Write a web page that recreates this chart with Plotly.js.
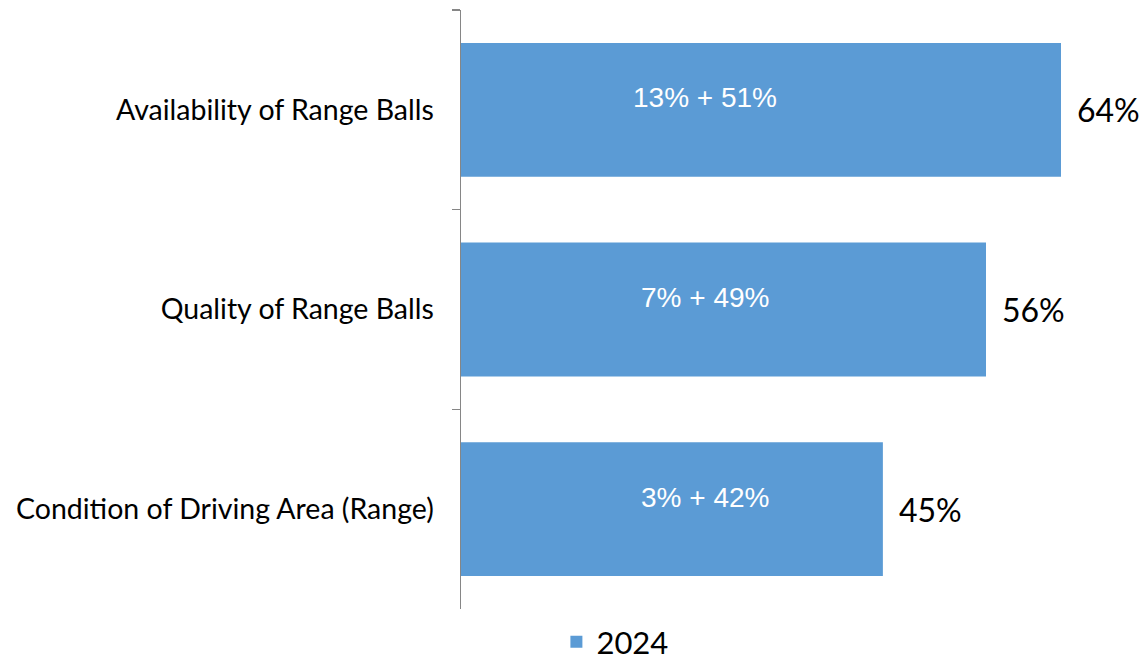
<!DOCTYPE html>
<html><head><meta charset="utf-8">
<script src="https://cdn.plot.ly/plotly-3.0.1.min.js"></script>
<style>html,body{margin:0;padding:0;background:#fff}#chart{width:1143px;height:669px}</style>
</head><body><div id="chart"></div>
<script>
const categories = ["Availability of Range Balls", "Quality of Range Balls", "Condition of Driving Area (Range)"];
const totals = [64, 56, 45];
const partA = [13, 7, 3];
const partB = [51, 49, 42];
const seriesName = "2024";
const insideLabelX = 26;

const barColor = "#5B9BD5";
const font = "Lato, 'Liberation Sans', sans-serif";
const arial = "'Liberation Sans', Arial, sans-serif";

const annotations = [];
categories.forEach((c, i) => {
  annotations.push({x: insideLabelX, y: c, xref: "x", yref: "y", text: partA[i] + "% + " + partB[i] + "%",
    showarrow: false, font: {family: arial, size: 28, color: "#ffffff"}, yshift: 12, xanchor: "center"});
  annotations.push({x: totals[i], y: c, xref: "x", yref: "y", text: totals[i] + "%",
    showarrow: false, font: {family: font, size: 32, color: "#000000"}, xanchor: "left", xshift: 14});
});

Plotly.newPlot("chart", [{
  type: "bar", orientation: "h", y: categories, x: totals, name: seriesName,
  marker: {color: barColor}, showlegend: true, hoverinfo: "none"
}], {
  width: 1143, height: 669,
  margin: {l: 461, r: 7, t: 10, b: 60},
  paper_bgcolor: "#fff", plot_bgcolor: "#fff",
  bargap: 0.33,
  font: {family: font, color: "#000"},
  xaxis: {range: [0, 72], visible: false, fixedrange: true},
  yaxis: {type: "category", range: [2.5, -0.5], showline: true, linecolor: "#868686", linewidth: 1.5,
    ticks: "outside", tickson: "boundaries", ticklen: 8, tickcolor: "#868686", tickwidth: 1.5,
    ticklabelstandoff: 20, tickfont: {family: font, size: 28.5, color: "#000"}, showgrid: false, zeroline: false},
  showlegend: true,
  legend: {orientation: "h", x: 0.228, xanchor: "center", yref: "container", y: -0.01, yanchor: "bottom",
    font: {family: font, size: 31, color: "#000"}},
  annotations: annotations
}, {staticPlot: true});
</script></body></html>
